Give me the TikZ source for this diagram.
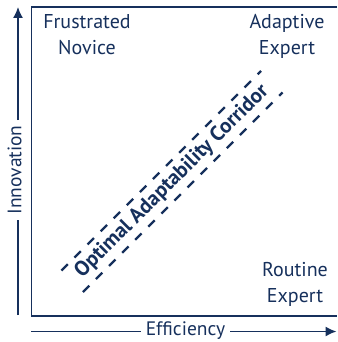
\documentclass[tikz,border=0pt]{standalone}
\usepackage{fontspec}
\setmainfont{PT Sans}
\usetikzlibrary{arrows.meta}
\definecolor{navy}{RGB}{22,48,92}
\tikzset{
    quadlabel/.style={text=navy, font=\fontsize{20}{26}\selectfont, align=center, inner sep=0pt, anchor=north},
    axislabel/.style={text=navy, font=\fontsize{19.5}{23}\selectfont, inner sep=0pt, inner xsep=5pt},
    axisline/.style={draw=navy, line width=1.5pt},
    corridortext/.style={text=navy, font=\fontsize{21}{24}\selectfont\bfseries, inner sep=0pt},
    dashline/.style={draw=navy, line width=2.4pt, dash pattern=on 9pt off 9.5pt}
}
\begin{document}
\begin{tikzpicture}[x=1pt, y=-1pt]
        \useasboundingbox (0,0) rectangle (337,342);
        % Frame of the chart
        \draw[navy, line width=1.8pt] (337,7) -- (31.5,7) -- (31.5,316) -- (337,316);
        % Quadrant labels
        \foreach \x/\y/\lbl/\n in {87/14/Frustrated\\Novice/novice,
                                   287/14/Adaptive\\Expert/adaptive,
                                   295/262/Routine\\Expert/routine} {
            \node[quadlabel] (\n) at (\x,\y) {\lbl};
        }
        % Corridor
        \node[corridortext, rotate=45, minimum width=282pt, minimum height=30pt] (corridor) at (172,181.5) {Optimal Adaptability Corridor};
        \foreach \s in {north, south}
        {   \draw[dashline] (corridor.\s\space west) -- (corridor.\s\space east);}
        % Axes
        \coordinate (ybot) at (18,315);
        \coordinate (ytop) at (18,7);
        \coordinate (xleft) at (31,331.5);
        \coordinate (xright) at (336.5,331.5);
        \node[axislabel, rotate=90] (innovation) at (14.5,170) {Innovation};
        \node[axislabel, anchor=base] (efficiency) at (185.5,335) {Efficiency};
        \draw[axisline] (ybot) -- (ybot |- innovation.west);
        \draw[axisline, -{Latex[length=11pt, width=10pt]}] (ybot |- innovation.east) -- (ytop);
        \draw[axisline] (xleft) -- (xleft -| efficiency.west);
        \draw[axisline, -{Latex[length=11pt, width=10pt]}] (xright -| efficiency.east) -- (xright);
    \end{tikzpicture}
\end{document}
